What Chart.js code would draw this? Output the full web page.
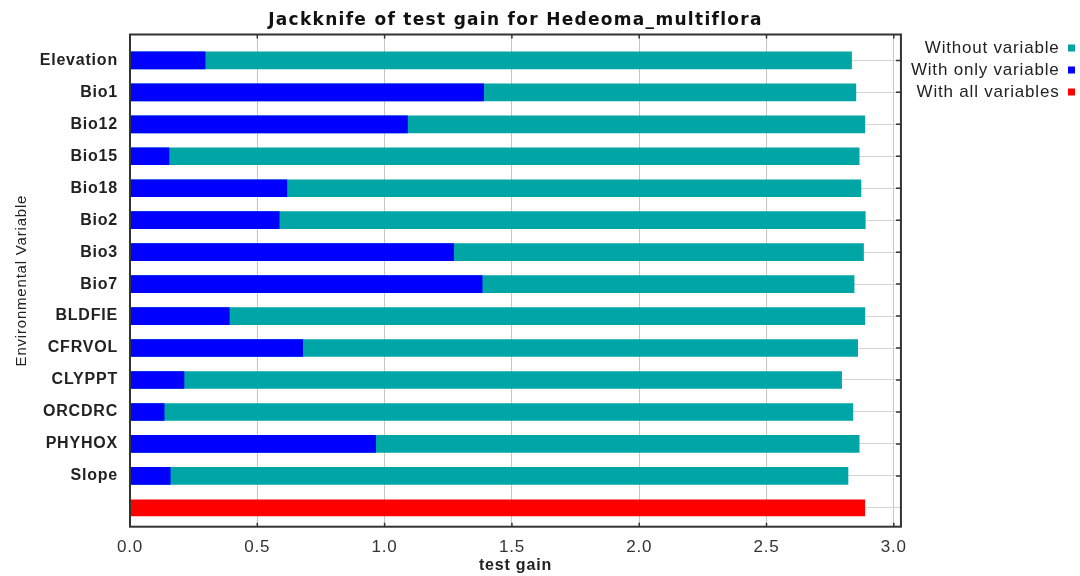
<!DOCTYPE html>
<html>
<head>
<meta charset="utf-8">
<title>Jackknife of test gain for Hedeoma_multiflora</title>
<script src="https://cdn.jsdelivr.net/npm/chart.js@4.4.1/dist/chart.umd.min.js"></script>
<style>
  html, body { margin: 0; padding: 0; background: #fff; }
  #wrap { width: 1080px; height: 576px; position: relative; }
</style>
</head>
<body>
<div id="wrap"><canvas id="jackknife"></canvas></div>
<script>
// jackknife results
const variables = ['Elevation', 'Bio1', 'Bio12', 'Bio15', 'Bio18', 'Bio2', 'Bio3', 'Bio7',
                   'BLDFIE', 'CFRVOL', 'CLYPPT', 'ORCDRC', 'PHYHOX', 'Slope'];
const withoutVariable = [2.834, 2.851, 2.886, 2.864, 2.871, 2.888, 2.881, 2.844,
                         2.886, 2.858, 2.795, 2.839, 2.864, 2.820];
const withOnlyVariable = [0.295, 1.389, 1.090, 0.153, 0.616, 0.586, 1.271, 1.383,
                          0.390, 0.678, 0.212, 0.134, 0.965, 0.158];
const withAllVariables = [2.886];
const gainTicks = [0, 0.5, 1.0, 1.5, 2.0, 2.5, 3.0];

// last row has no name, it carries the all-variables bar
const rowLabels = variables.concat(['']);
const allRow = variables.length;

const TEAL = '#00a6a6', BLUE = '#0000ff', RED = '#ff0000';
const FONT = "'Liberation Sans', Arial, sans-serif";

// original render is stretched sideways, spread the text a bit
const spacing = {
  id: 'spacing',
  beforeLayout(chart) { chart.ctx.letterSpacing = '0.8px'; },
  beforeDraw(chart) { chart.ctx.letterSpacing = '0.8px'; },
  afterLayout(chart) {
    const t = chart.titleBlock;
    if (t && !t._wide) {
      const draw = t.draw;
      t.draw = function() {
        this.ctx.save();
        this.ctx.letterSpacing = '1.3px';
        draw.apply(this, arguments);
        this.ctx.restore();
      };
      t._wide = true;
    }
  }
};

// closed frame with short inward ticks
const frame = {
  id: 'frame',
  afterDatasetsDraw(chart) {
    const {ctx, chartArea: a, scales: {x, y}} = chart;
    ctx.save();
    ctx.strokeStyle = '#333';
    ctx.lineWidth = 1.5;
    ctx.beginPath();
    x.ticks.forEach(t => {
      const px = x.getPixelForValue(t.value);
      ctx.moveTo(px, a.top); ctx.lineTo(px, a.top + 4);
      ctx.moveTo(px, a.bottom); ctx.lineTo(px, a.bottom - 4);
    });
    y.ticks.forEach(t => {
      if (t.value >= allRow) return;
      const py = y.getPixelForValue(t.value);
      ctx.moveTo(a.right, py); ctx.lineTo(a.right - 5, py);
    });
    ctx.stroke();
    ctx.lineWidth = 2;
    ctx.strokeRect(a.left, a.top, a.right - a.left, a.bottom - a.top);
    ctx.restore();
  }
};

new Chart(document.getElementById('jackknife'), {
  type: 'bar',
  data: {
    datasets: [
      {
        label: 'Without variable',
        data: variables.map((v, i) => ({x: withoutVariable[i], y: i})),
        backgroundColor: TEAL,
        order: 2, grouped: false, barThickness: 17
      },
      {
        label: 'With only variable',
        data: variables.map((v, i) => ({x: withOnlyVariable[i], y: i})),
        backgroundColor: BLUE,
        order: 1, grouped: false, barThickness: 17
      },
      {
        label: 'With all variables',
        data: withAllVariables.map(v => ({x: v, y: allRow})),
        backgroundColor: RED,
        order: 3, grouped: false, barThickness: 16
      }
    ]
  },
  options: {
    indexAxis: 'y',
    responsive: true,
    maintainAspectRatio: false,
    animation: false,
    layout: { padding: 0 },
    scales: {
      x: {
        type: 'linear',
        min: 0,
        max: 3.028,
        afterBuildTicks: s => { s.ticks = gainTicks.map(v => ({value: v})); },
        afterFit: s => { s.height = 49.3; },
        ticks: {
          callback: v => v.toFixed(1),
          color: '#333',
          padding: 10,
          font: { family: FONT, size: 17 }
        },
        grid: { color: '#c4c4c4', lineWidth: 1, drawTicks: false },
        border: { display: false },
        title: {
          display: true,
          text: 'test gain',
          color: '#222',
          padding: { top: 0, bottom: 1 },
          font: { family: FONT, size: 16, weight: 'bold' }
        }
      },
      y: {
        type: 'linear',
        reverse: true,
        offset: false,
        min: -0.81,
        max: 14.59,
        afterBuildTicks: s => { s.ticks = rowLabels.map((_, i) => ({value: i})); },
        afterFit: s => { s.width = 130; },
        ticks: {
          autoSkip: false,
          callback: v => rowLabels[v] ?? '',
          color: '#222',
          padding: 12,
          font: { family: FONT, size: 16, weight: 'bold' }
        },
        grid: { color: '#d4d4d4', lineWidth: 1, drawTicks: false, offset: false },
        border: { display: false },
        title: {
          display: true,
          text: 'Environmental Variable',
          color: '#222',
          padding: { top: 13, bottom: 0 },
          font: { family: FONT, size: 15 }
        }
      }
    },
    plugins: {
      title: {
        display: true,
        text: 'Jackknife of test gain for Hedeoma_multiflora',
        fullSize: false,
        color: '#111',
        padding: { top: 10.5, bottom: 3.6 },
        font: { family: "'DejaVu Sans', Verdana, sans-serif", size: 17, weight: 'bold' }
      },
      legend: {
        position: 'right',
        align: 'start',
        fullSize: false,
        rtl: true,
        labels: {
          boxWidth: 7,
          boxHeight: 7,
          padding: 5,
          color: '#222',
          font: { family: FONT, size: 17 },
          sort: (a, b) => a.datasetIndex - b.datasetIndex
        }
      },
      tooltip: { enabled: false }
    }
  },
  plugins: [spacing, frame]
});
</script>
</body>
</html>
